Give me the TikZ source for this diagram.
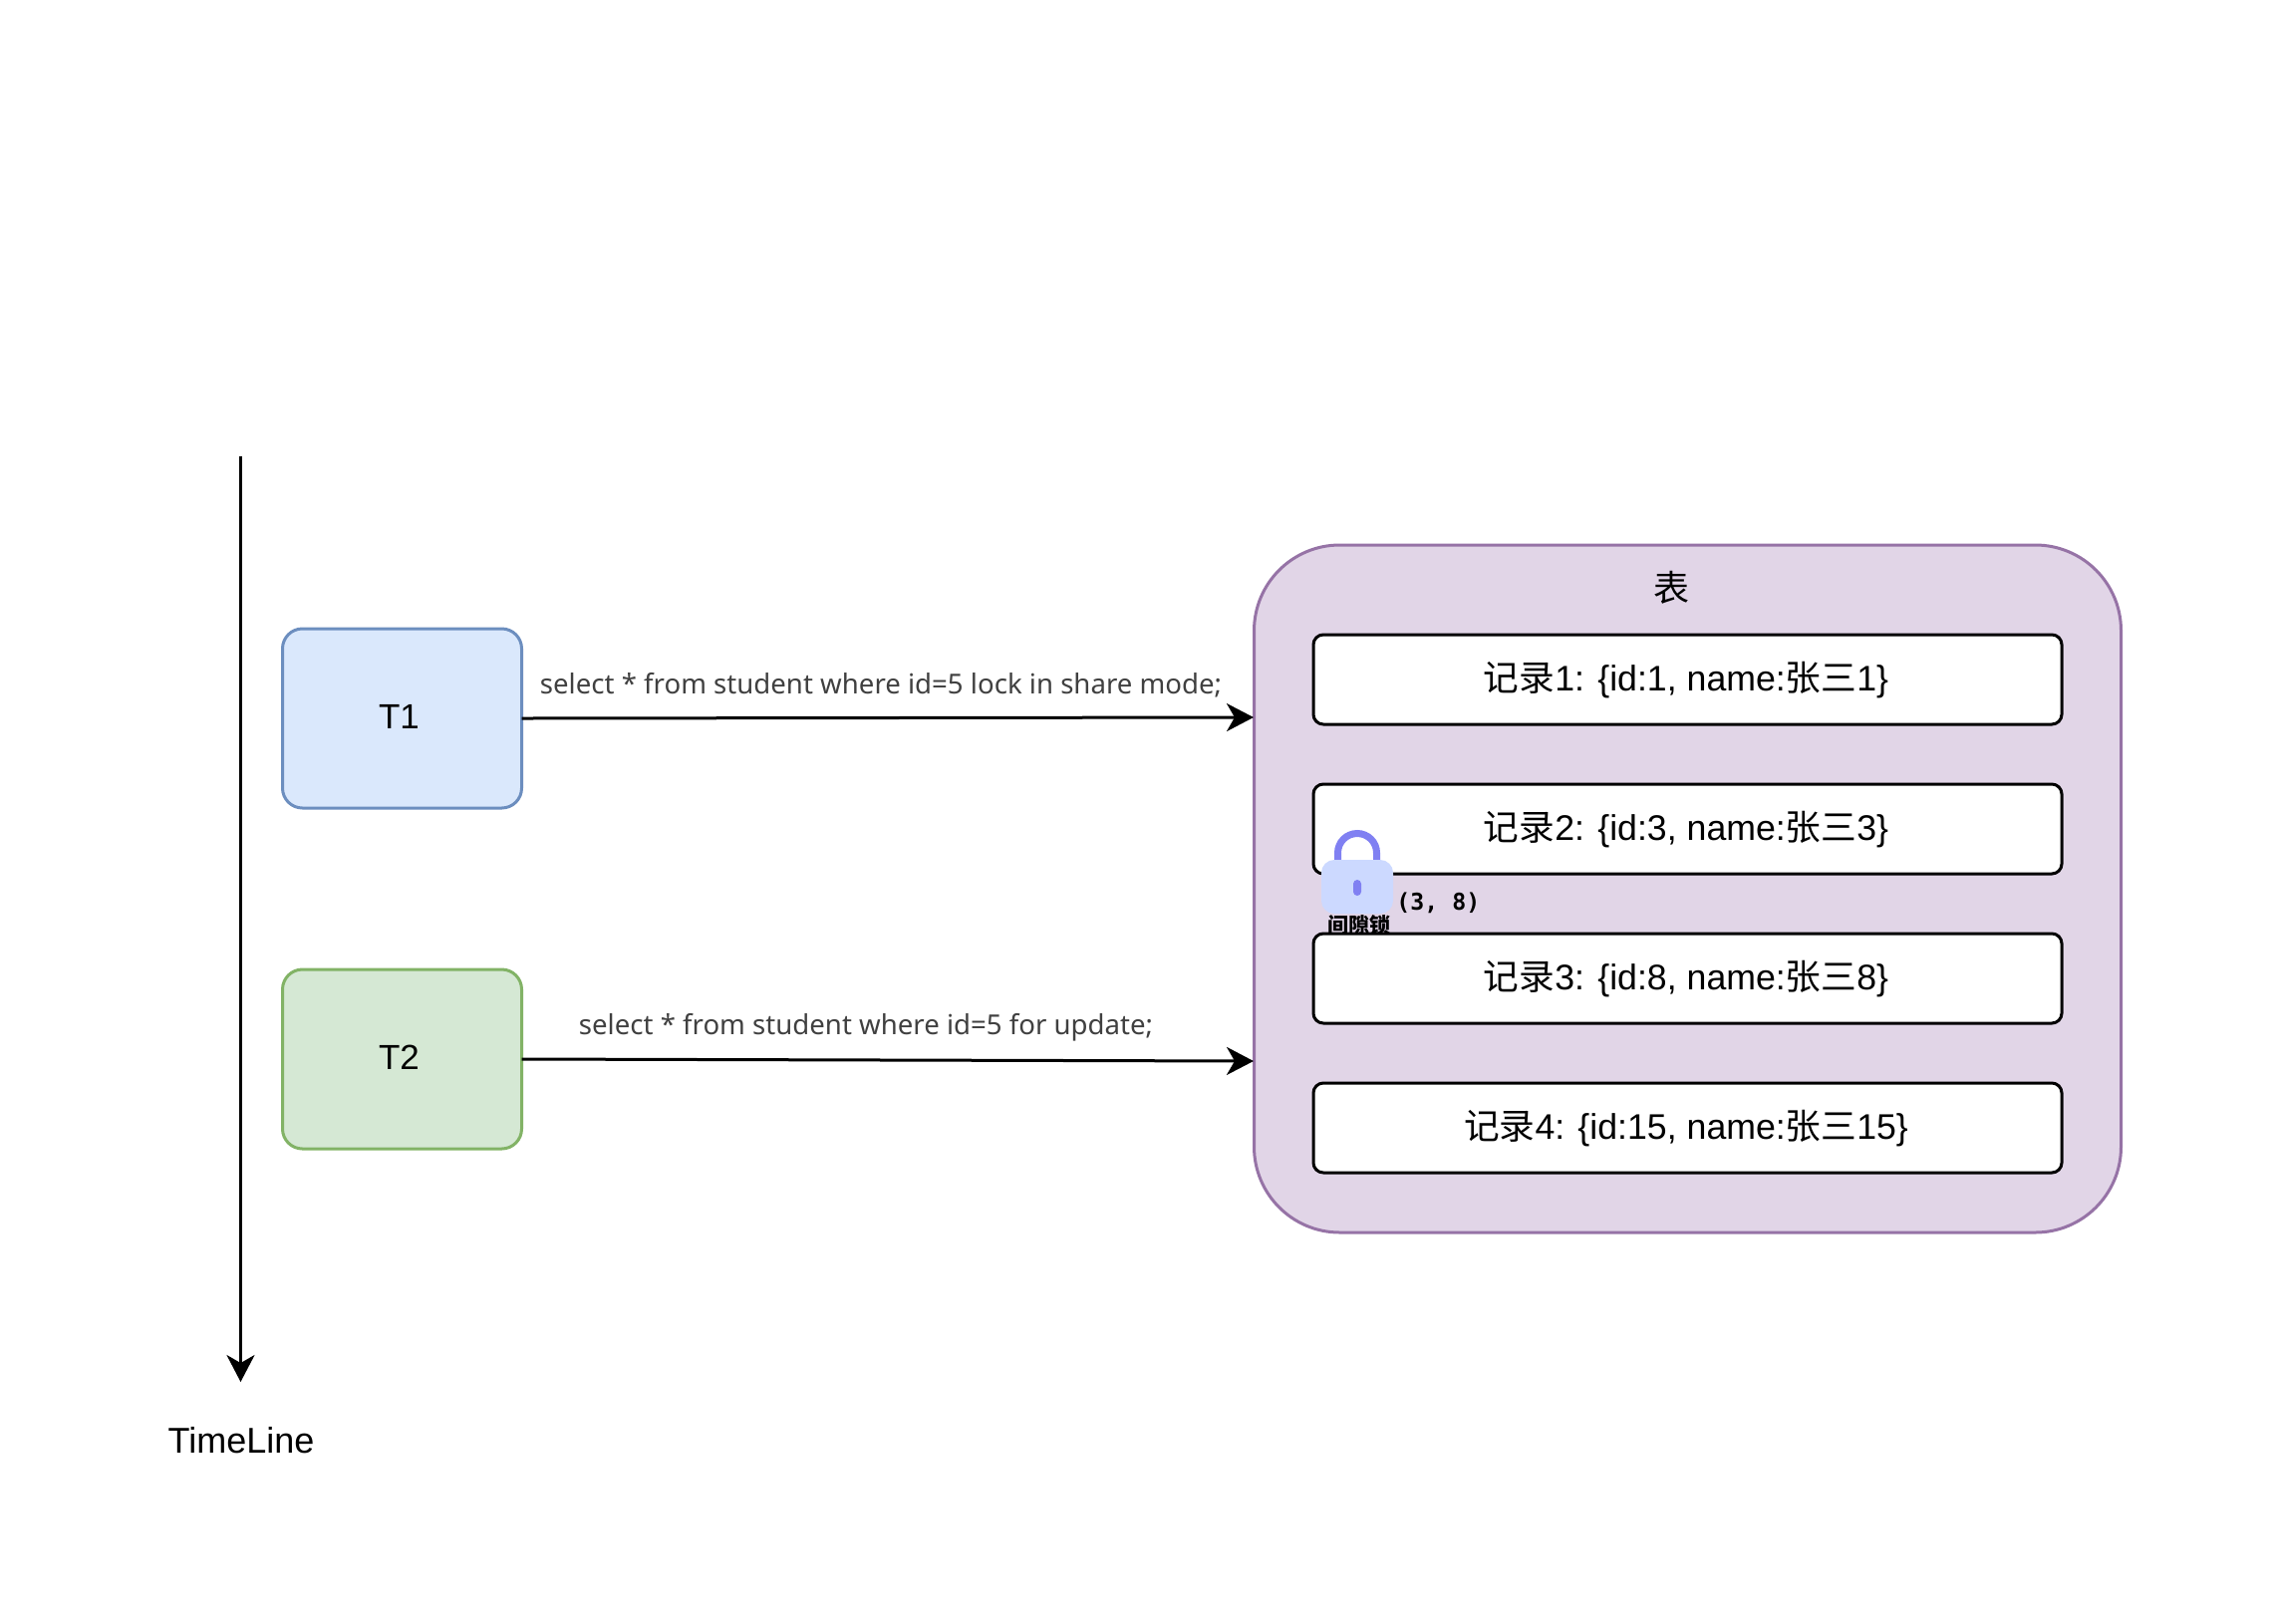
\documentclass[tikz,border=0pt]{standalone}
\usepackage{fontspec}
\setmainfont{Liberation Sans}
\newfontfamily\cjk{Noto Sans CJK SC}
\newfontfamily\sqlfont{Noto Sans}
\newfontfamily\gapfont{DejaVu Sans Mono}
\usetikzlibrary{arrows.meta}
\newcommand{\fs}[1]{\fontsize{#1}{#1}\selectfont}
\newcommand{\rectext}[3]{{\cjk 记录}#1: \{id:#2, name:{\cjk 张三}#3\}\kern 1.5pt}
\tikzset{
    tbox/.style = {draw, line width=1.5pt, outer sep=0pt, rounded corners=10pt, minimum width=120pt, minimum height=90pt, text depth=1.5pt, font=\fs{17.5}},
    recbox/.style = {draw, fill=white, line width=1.5pt, outer sep=0pt, rounded corners=5pt, minimum width=375.5pt, minimum height=45pt, text height=15pt, text depth=3.8pt, font=\fs{17.85}},
    link/.style = {line width=1.5pt, -{Stealth[length=13.5pt,width=14pt,inset=4pt]}},
    sqltext/.style = {text=black!75, font=\sqlfont\fs{13.8}, inner sep=0pt}
}
\definecolor{t1fill}{HTML}{DAE8FC}
\definecolor{t1line}{HTML}{6C8EBF}
\definecolor{t2fill}{HTML}{D5E8D4}
\definecolor{t2line}{HTML}{82B366}
\definecolor{tblfill}{HTML}{E1D5E7}
\definecolor{tblline}{HTML}{9673A6}
\definecolor{lockbody}{HTML}{CCD9FF}
\definecolor{lockline}{HTML}{8080F2}

\begin{document}
\begin{tikzpicture}[x=0.5pt,y=-0.5pt]
    \useasboundingbox (0,0) rectangle (2280,1629);

    % time axis
    \coordinate (timestart) at (241.5,458);
    \node[font=\fs{18}, inner sep=0pt] (timelabel) at (242,1446) {TimeLine};
    \coordinate (timeend) at (241.5,1387);
    \draw[link] (timestart) to (timeend);

    % transactions
    \node[tbox, fill=t1fill, draw=t1line] (t1) at (403.5,721) {T1\kern 3pt};
    \node[tbox, fill=t2fill, draw=t2line] (t2) at (403.5,1063) {T2\kern 3pt};

    % table
    \node[draw=tblline, fill=tblfill, line width=1.5pt, outer sep=0pt, rounded corners=43pt, minimum width=435pt, minimum height=345pt] (tbl) at (1693.5,892) {};
    \node[font=\cjk\fs{18}, inner sep=0pt] (tbltitle) at (1677,590) {表};

    \foreach \n/\yc/\key in {1/682/1, 2/832/3, 4/1132/15}
    {
    \node[recbox] (rec\n) at (1693.5,\yc) {\rectext{\n}{\key}{\key}};
    }

    % gap lock
    \draw[lockline, line width=3.5pt] (1342.5,863) to (1342.5,856) arc (180:0:9.75pt) to (1381.5,863);
    \node[fill=lockbody, rounded corners=6.5pt, minimum width=36pt, minimum height=27pt, inner sep=0pt] (lock) at (1362,890) {};
    \node[fill=lockline, rounded corners=2pt, minimum width=4pt, minimum height=8pt, inner sep=0pt] (keyhole) at (1362,891) {};
    \node[font=\cjk\bfseries\fs{10.5}, inner sep=0pt] (locklabel) at (1364,929) {间隙锁};
    \node[font=\gapfont\bfseries\fs{11.6}, inner sep=0pt, anchor=west] (gaprange) at (1401,906) {(3, 8)};

    \node[recbox] (rec3) at (1693.5,982) {\rectext{3}{8}{8}};

    % statements
    \coordinate (tblin1) at (1258,720);
    \coordinate (tblin2) at (1258,1065);
    \draw[link] (t1.east) to (tblin1);
    \draw[link] (t2.east) to (tblin2);
    \node[sqltext, anchor=base] (sql1) at (884,696) {select * from student where id=5 lock in share mode;};
    \node[sqltext, anchor=base] (sql2) at (869,1038) {select * from student where id=5 for update;};
\end{tikzpicture}
\end{document}
